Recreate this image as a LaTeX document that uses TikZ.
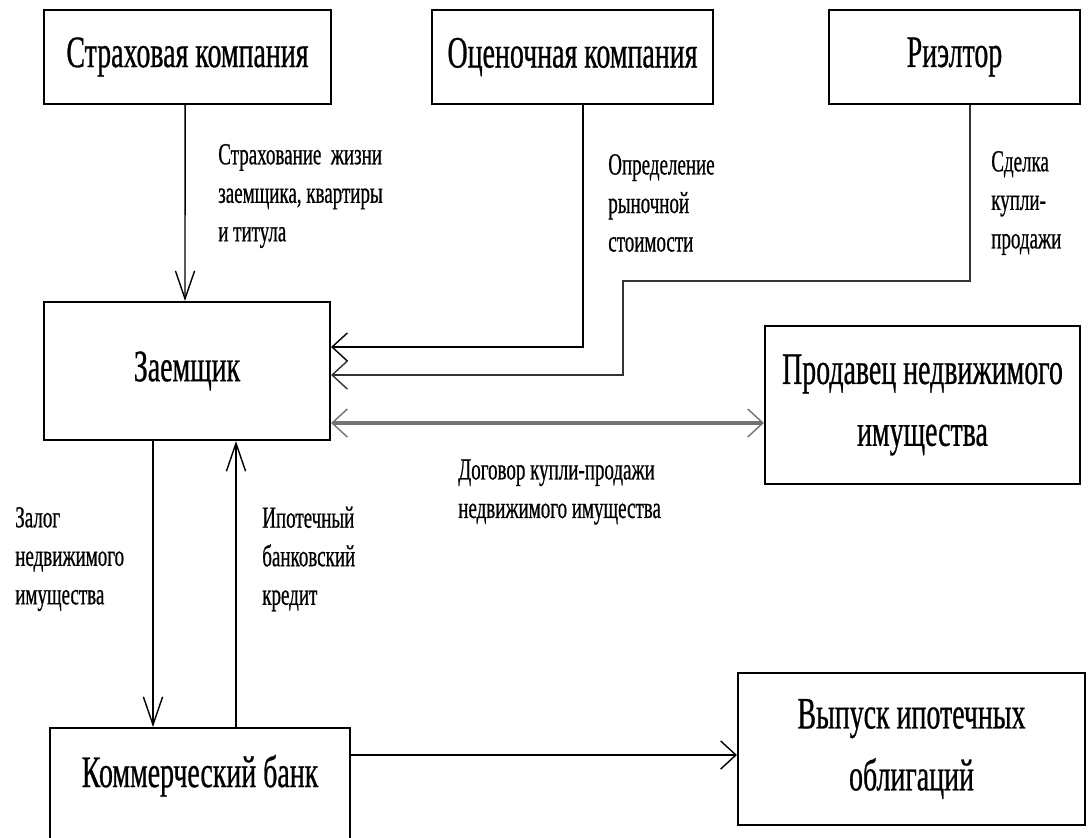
\documentclass[tikz,border=0pt]{standalone}
\usepackage{fontspec}
\setmainfont{Liberation Serif}[FakeStretch=0.62, FakeBold=0.6]
\usepackage{tikz}
\usetikzlibrary{arrows.meta, positioning}

\begin{document}
\begin{tikzpicture}[
    box/.style={draw, line width=1.5pt, align=center, inner sep=0pt,
        font=\fontsize{32pt}{44pt}\selectfont},
    note/.style={align=left, inner sep=0pt, anchor=west,
        font=\fontsize{21.8pt}{27.4pt}\selectfont},
    arv/.style={-{Straight Barb[length=0.7cm, width=0.48cm, line width=1pt]}, line width=1pt},
    arh/.style={-{Straight Barb[length=0.38cm, width=0.7cm, line width=1pt]}, line width=1pt},
    arw/.style={{Straight Barb[length=0.38cm, width=0.7cm, line width=1pt]}-{Straight Barb[length=0.38cm, width=0.7cm, line width=1pt]},
        line width=3pt, draw=black!55}
]
\useasboundingbox (0,0) rectangle (27.2,-20.925);
% top row
\node[box, minimum width=7.175cm, minimum height=2.35cm] (ins) at (4.6875,-1.425) {Страховая компания};
\node[box, minimum width=7.025cm, minimum height=2.35cm] (appr) at (14.3125,-1.425) {Оценочная компания};
\node[box, minimum width=6.275cm, minimum height=2.35cm] (realt) at (23.8625,-1.425) {Риэлтор};
% middle
\node[box, minimum width=7.15cm, minimum height=3.45cm] (borr) at (4.675,-9.275) {Заемщик};
\node[box, minimum width=7.875cm, minimum height=3.95cm] (seller) at (23.0625,-10.125) {Продавец недвижимого\\имущества};
% bottom
\node[box, minimum width=7.5cm, text height=1.475cm, text depth=2cm, anchor=north] (bank) at (5.0,-18.175) {Коммерческий банк};
\node[box, minimum width=8.675cm, minimum height=3.8cm] (bonds) at (22.7875,-18.725) {Выпуск ипотечных\\облигаций};

% labels
\node[note] (lins) at (5.45,-4.9) {Страхование\ \ жизни\\заемщика, квартиры\\и титула};
\node[note] (lappr) at (15.2,-5.075) {Определение\\рыночной\\стоимости};
\node[note] (lrealt) at (24.775,-5.075) {Сделка\\купли-\\продажи};
\node[note] (lsale) at (11.45,-12.3) {Договор купли-продажи\\недвижимого имущества};
\node[note] (lpledge) at (0.375,-13.975) {Залог\\недвижимого\\имущества};
\node[note] (lcredit) at (6.55,-13.975) {Ипотечный\\банковский\\кредит};

\coordinate (bend) at (15.575,-7.025);

\draw[arv] ([xshift=-0.06cm]ins.south) -- ([xshift=-0.05cm]borr.north);
\draw[arh] ([xshift=0.26cm]appr.south) |- ([yshift=0.6cm]borr.east);
\draw[arh, draw=black!80] ([xshift=0.39cm]realt.south) |- (bend) |- ([yshift=-0.1cm]borr.east);
\draw[arw] ([yshift=-1.3cm]borr.east) -- ([yshift=-1.3cm]borr.east -| seller.west);
\draw[arv] ([xshift=-0.85cm]borr.south) -- ([xshift=-0.85cm]borr.south |- bank.north);
\draw[arv] ([xshift=1.225cm]borr.south |- bank.north) -- ([xshift=1.225cm]borr.south);
\draw[arh] ([yshift=-0.7cm]bank.north east) -- ([yshift=-0.7cm]bank.north east -| bonds.west);
\end{tikzpicture}
\end{document}
